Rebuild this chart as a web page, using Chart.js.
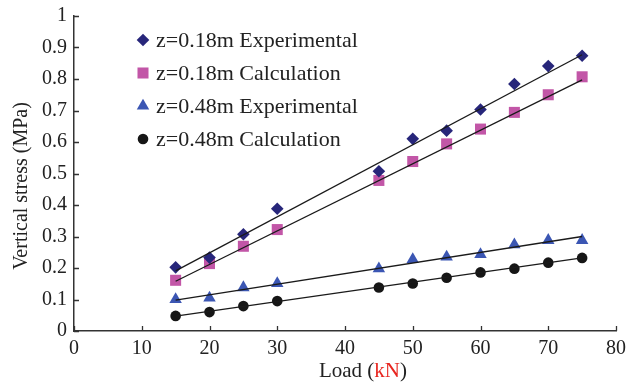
<!DOCTYPE html>
<html>
<head>
<meta charset="utf-8">
<script src="https://cdn.jsdelivr.net/npm/chart.js@4.4.1/dist/chart.umd.min.js"></script>
<style>
  html, body { margin: 0; padding: 0; background: #fff; }
  #wrap { width: 628px; height: 383px; }
</style>
</head>
<body>
<div id="wrap"><canvas id="stress" width="628" height="383"></canvas></div>
<script>
// load steps (kN)
const loads = [15, 20, 25, 30, 45, 50, 55, 60, 65, 70, 75];

// vertical stress (MPa)
const exp018  = [0.202, 0.233, 0.307, 0.388, 0.507, 0.610, 0.636, 0.703, 0.784, 0.841, 0.874];
const calc018 = [0.161, 0.214, 0.269, 0.322, 0.478, 0.538, 0.594, 0.641, 0.694, 0.750, 0.807];
const exp048  = [0.100, 0.105, 0.138, 0.151, 0.198, 0.227, 0.235, 0.243, 0.274, 0.288, 0.288];
const calc048 = [0.048, 0.060, 0.079, 0.095, 0.138, 0.151, 0.169, 0.186, 0.198, 0.217, 0.232];

// fitted lines, start and end values at 15 and 75 kN
const trendLoads = [15, 75];
const trend018Exp  = [0.191, 0.877];
const trend018Calc = [0.158, 0.797];
const trend048Exp  = [0.098, 0.300];
const trend048Calc = [0.047, 0.232];

const xTicks = [0, 10, 20, 30, 40, 50, 60, 70, 80];
const yTicks = [0, 0.1, 0.2, 0.3, 0.4, 0.5, 0.6, 0.7, 0.8, 0.9, 1];

const seriesNames = [
    'z=0.18m Experimental',
    'z=0.18m Calculation',
    'z=0.48m Experimental',
    'z=0.48m Calculation'
];

const FONT = '"Liberation Serif", "Times New Roman", serif';

const pts = (ys) => ys.map((y, i) => ({ x: loads[i], y: y }));
const line = (ys) => ys.map((y, i) => ({ x: trendLoads[i], y: y }));

const markerSet = (label, ys, style, radius, color) => ({
    label: label,
    data: pts(ys),
    showLine: false,
    pointStyle: style,
    pointRadius: radius,
    pointHoverRadius: radius,
    pointBackgroundColor: color,
    pointBorderColor: color,
    pointBorderWidth: 0,
    order: 2
});

const trendSet = (ys) => ({
    label: '',
    data: line(ys),
    showLine: true,
    borderColor: '#1a1a1a',
    borderWidth: 1.3,
    pointRadius: 0,
    fill: false,
    order: 1
});

const markers = [
    { style: 'rectRot',  radius: 6.3, color: '#27267a' },
    { style: 'rect',     radius: 7.8, color: '#c256a7' },
    { style: 'triangle', radius: 7.2, color: '#3b56b3' },
    { style: 'circle',   radius: 5.3, color: '#161616' }
];

// inward tick marks, legend and axis titles
const decor = {
    id: 'decor',
    afterDraw(chart) {
        const ctx = chart.ctx;
        const xs = chart.scales.x, ys = chart.scales.y;
        const area = chart.chartArea;
        ctx.save();
        ctx.strokeStyle = '#333';
        ctx.lineWidth = 1.3;
        ctx.beginPath();
        xTicks.forEach(v => {
            const px = Math.round(xs.getPixelForValue(v)) + 0.5;
            ctx.moveTo(px, area.bottom);
            ctx.lineTo(px, area.bottom - 5);
        });
        yTicks.forEach(v => {
            const py = Math.round(ys.getPixelForValue(v)) + 0.5;
            ctx.moveTo(area.left, py);
            ctx.lineTo(area.left + 5, py);
        });
        ctx.stroke();

        // legend
        const rows = [40, 73, 106, 139];
        ctx.font = '22px ' + FONT;
        ctx.textBaseline = 'middle';
        ctx.textAlign = 'left';
        markers.forEach((m, i) => {
            ctx.fillStyle = m.color;
            ctx.strokeStyle = m.color;
            Chart.helpers.drawPoint(ctx, { pointStyle: m.style, radius: m.radius, borderWidth: 0 }, 143, rows[i]);
            ctx.fillStyle = '#222';
            ctx.fillText(seriesNames[i], 156, rows[i] + 1);
        });

        // x title with red unit
        ctx.font = '21px ' + FONT;
        ctx.textBaseline = 'alphabetic';
        const parts = [['Load (', '#222'], ['kN', '#e8251f'], [')', '#222']];
        const total = parts.reduce((s, p) => s + ctx.measureText(p[0]).width, 0);
        let x = 363 - total / 2;
        parts.forEach(p => {
            ctx.fillStyle = p[1];
            ctx.fillText(p[0], x, 377);
            x += ctx.measureText(p[0]).width;
        });

        // y title
        ctx.translate(22, 186);
        ctx.rotate(-Math.PI / 2);
        ctx.textAlign = 'center';
        ctx.textBaseline = 'middle';
        ctx.fillStyle = '#222';
        ctx.font = '20px ' + FONT;
        ctx.fillText('Vertical stress (MPa)', 0, 0);
        ctx.restore();
    }
};

new Chart(document.getElementById('stress'), {
    type: 'scatter',
    data: {
        datasets: [
            trendSet(trend018Exp),
            trendSet(trend018Calc),
            trendSet(trend048Exp),
            trendSet(trend048Calc),
            markerSet(seriesNames[0], exp018,  markers[0].style, markers[0].radius, markers[0].color),
            markerSet(seriesNames[1], calc018, markers[1].style, markers[1].radius, markers[1].color),
            markerSet(seriesNames[2], exp048,  markers[2].style, markers[2].radius, markers[2].color),
            markerSet(seriesNames[3], calc048, markers[3].style, markers[3].radius, markers[3].color)
        ]
    },
    options: {
        responsive: false,
        animation: false,
        layout: { padding: { top: 16, right: 12, left: 0, bottom: 0 } },
        plugins: {
            legend: { display: false },
            tooltip: { enabled: false }
        },
        scales: {
            x: {
                type: 'linear',
                min: 0,
                max: 80,
                afterFit: (s) => { s.height = 52; s.paddingLeft = 0; s.paddingRight = 0; },
                afterBuildTicks: (s) => { s.ticks = xTicks.map(v => ({ value: v })); },
                grid: { display: false, drawTicks: false },
                border: { display: true, color: '#333', width: 1.5 },
                ticks: {
                    padding: 6,
                    color: '#222',
                    maxRotation: 0,
                    font: { family: FONT, size: 20 }
                }
            },
            y: {
                type: 'linear',
                min: 0,
                max: 1,
                afterFit: (s) => { s.width = 74; s.paddingTop = 0; s.paddingBottom = 0; },
                afterBuildTicks: (s) => { s.ticks = yTicks.map(v => ({ value: v })); },
                grid: { display: false, drawTicks: false },
                border: { display: true, color: '#333', width: 1.5 },
                ticks: {
                    padding: 7,
                    color: '#222',
                    font: { family: FONT, size: 20 },
                    callback: (v) => String(Math.round(v * 10) / 10)
                }
            }
        }
    },
    plugins: [decor]
});
</script>
</body>
</html>
